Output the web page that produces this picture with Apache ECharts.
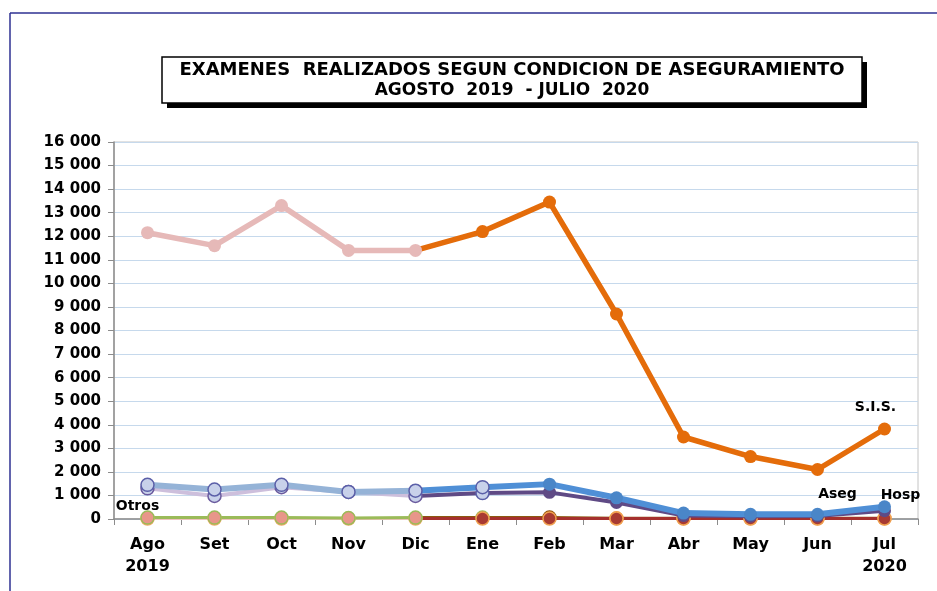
<!DOCTYPE html>
<html><head><meta charset="utf-8">
<script src="https://cdn.jsdelivr.net/npm/echarts@6/dist/echarts.min.js"></script>
<style>html,body{margin:0;padding:0;background:#fff}#c{width:937px;height:591px}</style>
</head><body><div id="c"></div>
<script>
const months = ['Ago','Set','Oct','Nov','Dic','Ene','Feb','Mar','Abr','May','Jun','Jul'];
const tickLabels = ['Ago\n2019','Set','Oct','Nov','Dic','Ene','Feb','Mar','Abr','May','Jun','Jul\n2020'];
const sis   = [12150, 11600, 13300, 11400, 11400, 12200, 13450, 8700, 3480, 2650, 2100, 3820];
const hosp  = [1450, 1250, 1450, 1150, 1200, 1350, 1480, 900, 250, 200, 200, 520];
const aseg  = [1300, 980, 1350, 1150, 980, 1100, 1130, 700, 150, 120, 130, 350];
const otros = [60, 60, 60, 40, 60, 60, 60, 30, 30, 30, 30, 30];
const otros2= [20, 20, 20, 20, 20, 20, 20, 20, 20, 20, 20, 20];
const splitAt = 4; // color change at Dic

const FONT = 'DejaVu Sans';
function early(arr){ return arr.map((v,i)=> i<=splitAt ? v : '-'); }
function late(arr, lightIdx, lightStyle){
  return arr.map((v,i)=>{
    if(i<splitAt) return '-';
    if(i===splitAt) return {value:v, symbol:'none'};
    if(lightIdx && lightIdx.includes(i)) return {value:v, itemStyle:lightStyle};
    return v;
  });
}
function withLabel(data, idx, text, offset){
  data = data.slice();
  const v = data[idx];
  const base = (typeof v === 'object') ? v : {value:v};
  data[idx] = Object.assign({}, base, {label:{show:true, position:'top', formatter:text, offset:offset,
    color:'#000', fontFamily:FONT, fontWeight:'bold', fontSize:14}});
  return data;
}
function mk(name, data, color, width, itemStyle, z){
  return {name, type:'line', data, z:z||2, symbol:'circle', symbolSize:13, connectNulls:false,
    lineStyle:{color, width}, itemStyle, emphasis:{disabled:true}, animation:false};
}
const lav = {color:'#c8d1ea', borderColor:'#5b5fa8', borderWidth:1.5};
const series = [
  mk('Otros2 a', early(otros2), '#f0c2c0', 3, {color:'#f0b4a8', borderColor:'#f2a865', borderWidth:1.5}, 2),
  mk('Otros a', withLabel(early(otros), 0, 'Otros', [-10, 8]), '#9bbb59', 3, {color:'#e8968a', borderColor:'#9bbb59', borderWidth:1.5}, 2),
  mk('Otros b', late(otros, [5], {color:'#a83a32', borderColor:'#9bbb59', borderWidth:1.5}).map((d,i)=> i===6 ? {value:otros[i], itemStyle:{color:'#8a4a00', borderColor:'#8a4a00'}} : d), '#8a5a10', 3, {color:'#a83a32', borderColor:'#f0a050', borderWidth:1.5}, 2),
  mk('Otros2 b', late(otros2), '#a5302d', 3, {color:'#a83a32', borderColor:'#f0a050', borderWidth:1.5}, 2),
  mk('Aseg a', early(aseg), '#cdbfdc', 4, {color:'#c8d1ea', borderColor:'#6a5a9e', borderWidth:1.5}, 3),
  mk('Aseg b', withLabel(late(aseg, [5], lav), 10, 'Aseg', [20, -3]), '#5f4a85', 4, {color:'#5f4a85'}, 3),
  mk('Hosp a', early(hosp), '#95b3d7', 6, lav, 4),
  mk('Hosp b', withLabel(late(hosp, [5], lav), 11, 'Hosp', [16, 7]), '#4f8fd6', 6, {color:'#4a86c8'}, 4),
  mk('S.I.S. b', withLabel(late(sis), 11, 'S.I.S.', [-9, -3]), '#e46c0a', 5.5, {color:'#e46c0a'}, 5),
  mk('S.I.S. a', early(sis), '#e6b9b8', 5.5, {color:'#e6b9b8'}, 6)
];

const chart = echarts.init(document.getElementById('c'), null, {renderer:'canvas'});
chart.setOption({
  backgroundColor:'#fff',
  animation:false,
  grid:{left:114, right:19, top:142, bottom:72, show:true, borderColor:'#c4c4c4', borderWidth:1, containLabel:false},
  xAxis:{type:'category', data:months, boundaryGap:true,
    axisLine:{lineStyle:{color:'#8c8c8c', width:1.5}},
    axisTick:{show:true, length:6, lineStyle:{color:'#8c8c8c'}},
    axisLabel:{formatter:(v,i)=>tickLabels[i], color:'#000', fontFamily:FONT, fontWeight:'bold', fontSize:16, margin:15, lineHeight:22}
  },
  yAxis:{type:'value', min:0, max:16000, interval:1000,
    axisLine:{show:true, lineStyle:{color:'#8c8c8c', width:1.5}},
    axisTick:{show:true, length:6, lineStyle:{color:'#8c8c8c'}},
    splitLine:{lineStyle:{color:'#c6d9ec', width:1}},
    axisLabel:{formatter:v=>String(v).replace(/\B(?=(\d{3})+(?!\d))/g,' '), color:'#000', fontFamily:FONT, fontWeight:'bold', fontSize:15, margin:13}
  },
  graphic:[
    {type:'line', shape:{x1:10, y1:13, x2:937, y2:13}, style:{stroke:'#2e3192', lineWidth:1.5}, silent:true},
    {type:'line', shape:{x1:10, y1:13, x2:10, y2:591}, style:{stroke:'#2e3192', lineWidth:1.5}, silent:true},
    {type:'rect', shape:{x:167, y:62, width:700, height:46}, style:{fill:'#000'}, silent:true},
    {type:'rect', shape:{x:162, y:57, width:700, height:46}, style:{fill:'#fff', stroke:'#000', lineWidth:1.5}, silent:true},
    {type:'text', x:512, y:70, style:{text:'EXAMENES  REALIZADOS SEGUN CONDICION DE ASEGURAMIENTO', fill:'#000', font:'bold 18px "DejaVu Sans"', textAlign:'center', textVerticalAlign:'middle'}, silent:true},
    {type:'text', x:512, y:91, style:{text:'AGOSTO  2019  - JULIO  2020', fill:'#000', font:'bold 17px "DejaVu Sans"', textAlign:'center', textVerticalAlign:'middle'}, silent:true}
  ],
  series
});
</script></body></html>
